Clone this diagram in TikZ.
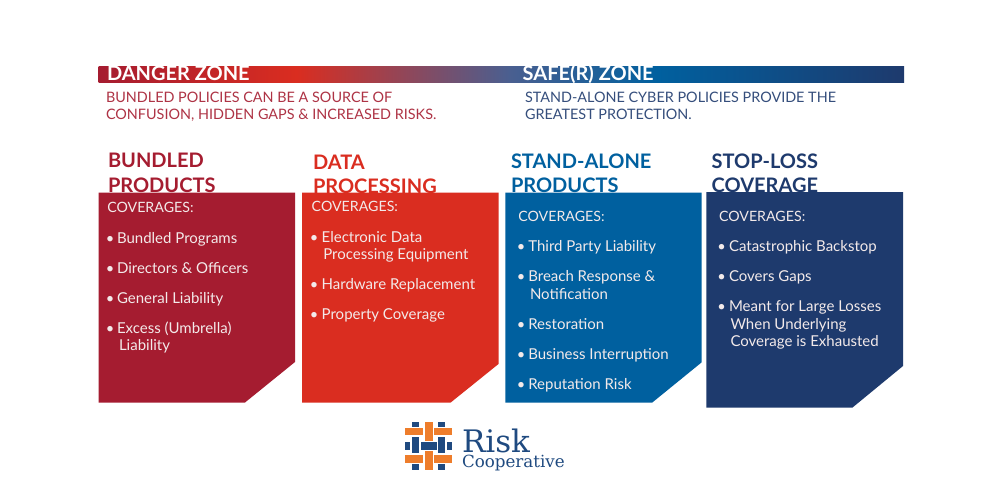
\documentclass[tikz,border=0pt]{standalone}
\usepackage{fontspec}
\setmainfont{Lato}
\newfontfamily\logofont{DejaVu Serif}
\definecolor{cA}{HTML}{A51C30}
\definecolor{cB}{HTML}{DA2D20}
\definecolor{cC}{HTML}{00609F}
\definecolor{cD}{HTML}{1E3A6D}
\definecolor{cOr}{HTML}{EE7D2B}
\definecolor{cLogo}{HTML}{1F4A80}
\definecolor{cTxt}{HTML}{F3EAEA}
\definecolor{cMid}{HTML}{4A5F90}
\pgfdeclarehorizontalshading{zonebar}{100bp}{
  color(0bp)=(cA); color(25bp)=(cA); color(37.3bp)=(cB); color(50.5bp)=(cMid);
  color(59.7bp)=(cC); color(75bp)=(cD); color(100bp)=(cD)}
\tikzset{
  x=1pt,y=-1pt,
  txt/.style={inner sep=0pt,outer sep=0pt,anchor=base west},
  zonehead/.style={txt,text=white,font=\fontsize{20}{22}\selectfont\bfseries},
  zonesub/.style={txt,font=\fontsize{14.4}{17}\selectfont},
  heading/.style={txt,font=\fontsize{20}{22}\selectfont\bfseries},
  covhead/.style={txt,text=cTxt,font=\fontsize{14.2}{17}\selectfont},
  cover/.style={txt,text=cTxt,font=\fontsize{15}{17}\selectfont},
  bul/.style={inner sep=0pt,outer sep=0pt,anchor=base,text=cTxt,font=\fontsize{14.6}{17}\selectfont},
}
\newcommand{\lgbox}[5]{\fill[#1] (#2,#3) rectangle (#4,#5);}
\begin{document}
\begin{tikzpicture}
\useasboundingbox (0,0) rectangle (1000,500);
\fill[white] (0,0) rectangle (1000,500);
% headings sit behind the panels, which clip them
\node[heading,text=cA] (h1a) at (108,167.7) {BUNDLED};
\node[heading,text=cA] (h1b) at (108,192) {PRODUCTS};
\node[heading,text=cB] (h2a) at (313,169) {DATA};
\node[heading,text=cB] (h2b) at (313,193) {PROCESSING};
\node[heading,text=cC] (h3a) at (511,168.3) {STAND-ALONE};
\node[heading,text=cC] (h3b) at (511,192) {PRODUCTS};
\node[heading,text=cD] (h4a) at (711.7,168.3) {STOP-LOSS};
\node[heading,text=cD] (h4b) at (711.7,192) {COVERAGE};
% panels
\fill[cA] (98.5,192.5) -- (295,192.5) -- (295,362) -- (245,402.5) -- (98.5,402.5) -- cycle;
\fill[cB] (302,192.5) -- (498.5,192.5) -- (498.5,364) -- (450.7,402.5) -- (302,402.5) -- cycle;
\fill[cC] (505.3,192.5) -- (701.7,192.5) -- (701.7,362.3) -- (652.3,402.5) -- (505.3,402.5) -- cycle;
\fill[cD] (706.3,192.2) -- (903,192.2) -- (903,366) -- (852.3,407.7) -- (706.3,407.7) -- cycle;
% bar
\shade[shading=zonebar] (98.5,66.5) rectangle (904,82.5);
\node[zonehead] (dz) at (107,81) {DANGER ZONE};
\node[zonehead] (sz) at (522.7,81) {SAFE(R) ZONE};
\node[zonesub,text=cA!90!white] (d1) at (106,102.3) {BUNDLED POLICIES CAN BE A SOURCE OF};
\node[zonesub,text=cA!90!white] (d2) at (106,119.3) {CONFUSION, HIDDEN GAPS \& INCREASED RISKS.};
\node[zonesub,text=cD!90!white] (s1) at (525,102.3) {STAND-ALONE CYBER POLICIES PROVIDE THE};
\node[zonesub,text=cD!90!white] (s2) at (525,119.3) {GREATEST PROTECTION.};
% panel 1
\node[covhead] (a0) at (107.3,212.7) {COVERAGES:};
\node[bul] (ab1) at (110,243.3) {•}; \node[cover] (a1) at (117,243.3) {Bundled Programs};
\node[bul] (ab2) at (110,273.3) {•}; \node[cover] (a2) at (117,273.3) {Directors \& Officers};
\node[bul] (ab3) at (110,303.3) {•}; \node[cover] (a3) at (117,303.3) {General Liability};
\node[bul] (ab4) at (110,333.3) {•}; \node[cover] (a4) at (117,333.3) {Excess (Umbrella)};
\node[cover] (a5) at (119,350.7) {Liability};
% panel 2
\node[covhead] (b0) at (311.7,211.7) {COVERAGES:};
\node[bul] (bb1) at (314,242) {•}; \node[cover] (b1) at (321.7,242) {Electronic Data};
\node[cover] (b2) at (323.3,259.3) {Processing Equipment};
\node[bul] (bb3) at (314,289.3) {•}; \node[cover] (b3) at (321.7,289.3) {Hardware Replacement};
\node[bul] (bb4) at (314,319.5) {•}; \node[cover] (b4) at (321.7,319.5) {Property Coverage};
% panel 3
\node[covhead] (c0) at (518.3,221.7) {COVERAGES:};
\node[bul] (cb1) at (521,251.7) {•}; \node[cover] (c1) at (528.3,251.7) {Third Party Liability};
\node[bul] (cb2) at (521,281.7) {•}; \node[cover] (c2) at (528.3,281.7) {Breach Response \&};
\node[cover] (c3) at (530,299) {Notification};
\node[bul] (cb4) at (521,329.3) {•}; \node[cover] (c4) at (528.3,329.3) {Restoration};
\node[bul] (cb5) at (521,359.3) {•}; \node[cover] (c5) at (528.3,359.3) {Business Interruption};
\node[bul] (cb6) at (521,389.3) {•}; \node[cover] (c6) at (528.3,389.3) {Reputation Risk};
% panel 4
\node[covhead] (e0) at (719,221.7) {COVERAGES:};
\node[bul] (eb1) at (721.7,251.7) {•}; \node[cover] (e1) at (729,251.7) {Catastrophic Backstop};
\node[bul] (eb2) at (721.7,281.7) {•}; \node[cover] (e2) at (729,281.7) {Covers Gaps};
\node[bul] (eb3) at (721.7,311.7) {•}; \node[cover] (e3) at (729,311.7) {Meant for Large Losses};
\node[cover] (e4) at (730.5,329) {When Underlying};
\node[cover] (e5) at (730.5,346.5) {Coverage is Exhausted};
% logo: woven strips, each visible piece as one rectangle
\lgbox{cLogo}{411.7}{422}{419}{427}
\lgbox{cLogo}{411.7}{437}{419}{453}
\lgbox{cLogo}{411.7}{463.5}{419}{469.5}
\lgbox{cLogo}{437.7}{422}{445}{427}
\lgbox{cLogo}{437.7}{437}{445}{453}
\lgbox{cLogo}{437.7}{463.5}{445}{469.5}
\lgbox{cLogo}{405}{442}{410}{449.5}
\lgbox{cLogo}{420.5}{442}{436.5}{449.5}
\lgbox{cLogo}{446.5}{442}{452}{449.5}
\lgbox{cOr}{405}{428}{423}{435}
\lgbox{cOr}{433.5}{428}{452}{435}
\lgbox{cOr}{405}{455.3}{423}{462.7}
\lgbox{cOr}{433.5}{455.3}{452}{462.7}
\lgbox{cOr}{425}{422}{432.7}{440.5}
\lgbox{cOr}{425}{451}{432.7}{469.5}
\node[txt,text=cLogo,font=\fontsize{31}{33}\selectfont\logofont] (lg1) at (462,452) {Risk};
\node[txt,text=cLogo,font=\fontsize{16.7}{18}\selectfont\logofont] (lg2) at (462,467) {Cooperative};
\end{tikzpicture}
\end{document}
